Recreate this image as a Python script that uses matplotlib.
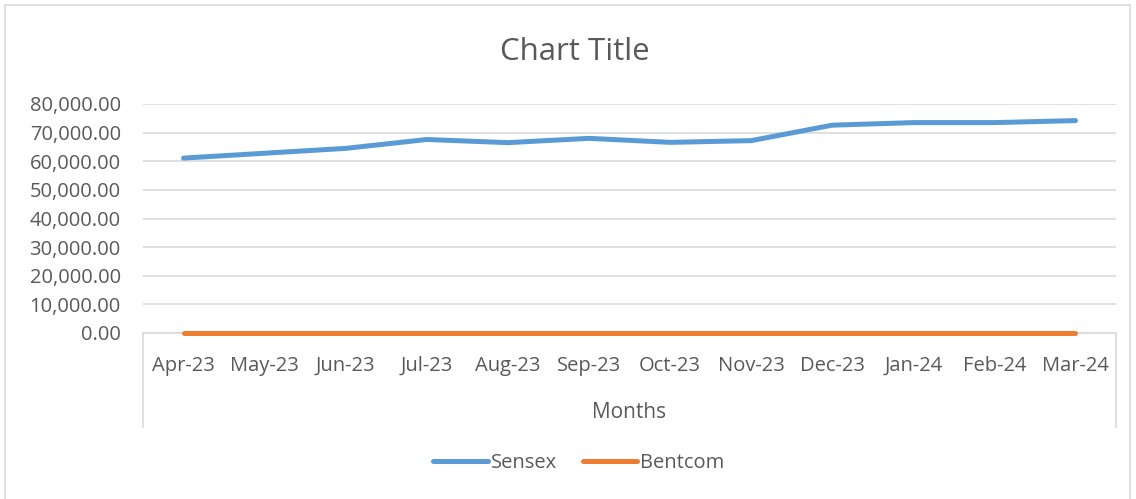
import matplotlib.pyplot as plt
from matplotlib.lines import Line2D
from matplotlib.patches import Rectangle
from matplotlib.ticker import FuncFormatter

months = ['Apr-23', 'May-23', 'Jun-23', 'Jul-23', 'Aug-23', 'Sep-23',
          'Oct-23', 'Nov-23', 'Dec-23', 'Jan-24', 'Feb-24', 'Mar-24']
sensex = [61100, 62800, 64500, 67600, 66500, 68000,
          66600, 67200, 72600, 73500, 73500, 74200]
bentcom = [0, 0, 0, 0, 0, 0, 0, 0, 0, 0, 0, 0]

txt = '#595959'
grid = '#D9D9D9'
plt.rcParams['font.family'] = ['Open Sans', 'DejaVu Sans']

fig = plt.figure(figsize=(11.36, 4.99), dpi=100)
# outer chart border
fig.add_artist(Rectangle((5 / 1136, -0.01), 1125 / 1136, 1 - 5 / 499 + 0.01,
                         transform=fig.transFigure, fill=False,
                         edgecolor=grid, linewidth=1.2))

ax = fig.add_axes([143 / 1136, 1 - 333 / 499, 973 / 1136, 229 / 499])
x = range(len(months))
ax.plot(x, sensex, color='#5B9BD5', linewidth=3.6, solid_capstyle='round',
        label='Sensex', zorder=3, clip_on=False)
ax.plot(x, bentcom, color='#ED7D31', linewidth=3.6, solid_capstyle='round',
        label='Bentcom', zorder=3, clip_on=False)

ax.set_xlim(-0.5, len(months) - 0.5)
ax.set_ylim(0, 80000)
ax.set_yticks(range(0, 80001, 10000))
ax.yaxis.set_major_formatter(FuncFormatter(lambda v, p: f'{v:,.2f}'))
ax.set_xticks(list(x))
ax.set_xticklabels(months)
ax.grid(axis='y', color=grid, linewidth=1.2)
ax.set_axisbelow(True)
for s in ['top', 'right', 'left']:
    ax.spines[s].set_visible(False)
ax.spines['bottom'].set_color(grid)
ax.spines['bottom'].set_linewidth(1.2)
ax.tick_params(axis='both', length=0, colors=txt, labelsize=14.5)
ax.tick_params(axis='x', pad=16.5)
ax.tick_params(axis='y', pad=16)

# category axis box edges
for xf in [143 / 1136, 1116 / 1136]:
    fig.add_artist(Line2D([xf, xf], [1 - 333 / 499, 1 - 427 / 499],
                          transform=fig.transFigure, color=grid, linewidth=1.2))

fig.text(629.5 / 1136, 1 - 412 / 499, 'Months', ha='center', va='center', color=txt, fontsize=15)
fig.text(575 / 1136, 1 - 52 / 499, 'Chart Title', ha='center', va='center', color=txt, fontsize=22.5)

fig.legend(loc='center', bbox_to_anchor=(579 / 1136, 1 - 463 / 499), ncol=2, frameon=False,
           fontsize=14.5, labelcolor=txt, handlelength=2.7, handletextpad=0.15, columnspacing=1.3)

fig.savefig('out.png', dpi=100)
